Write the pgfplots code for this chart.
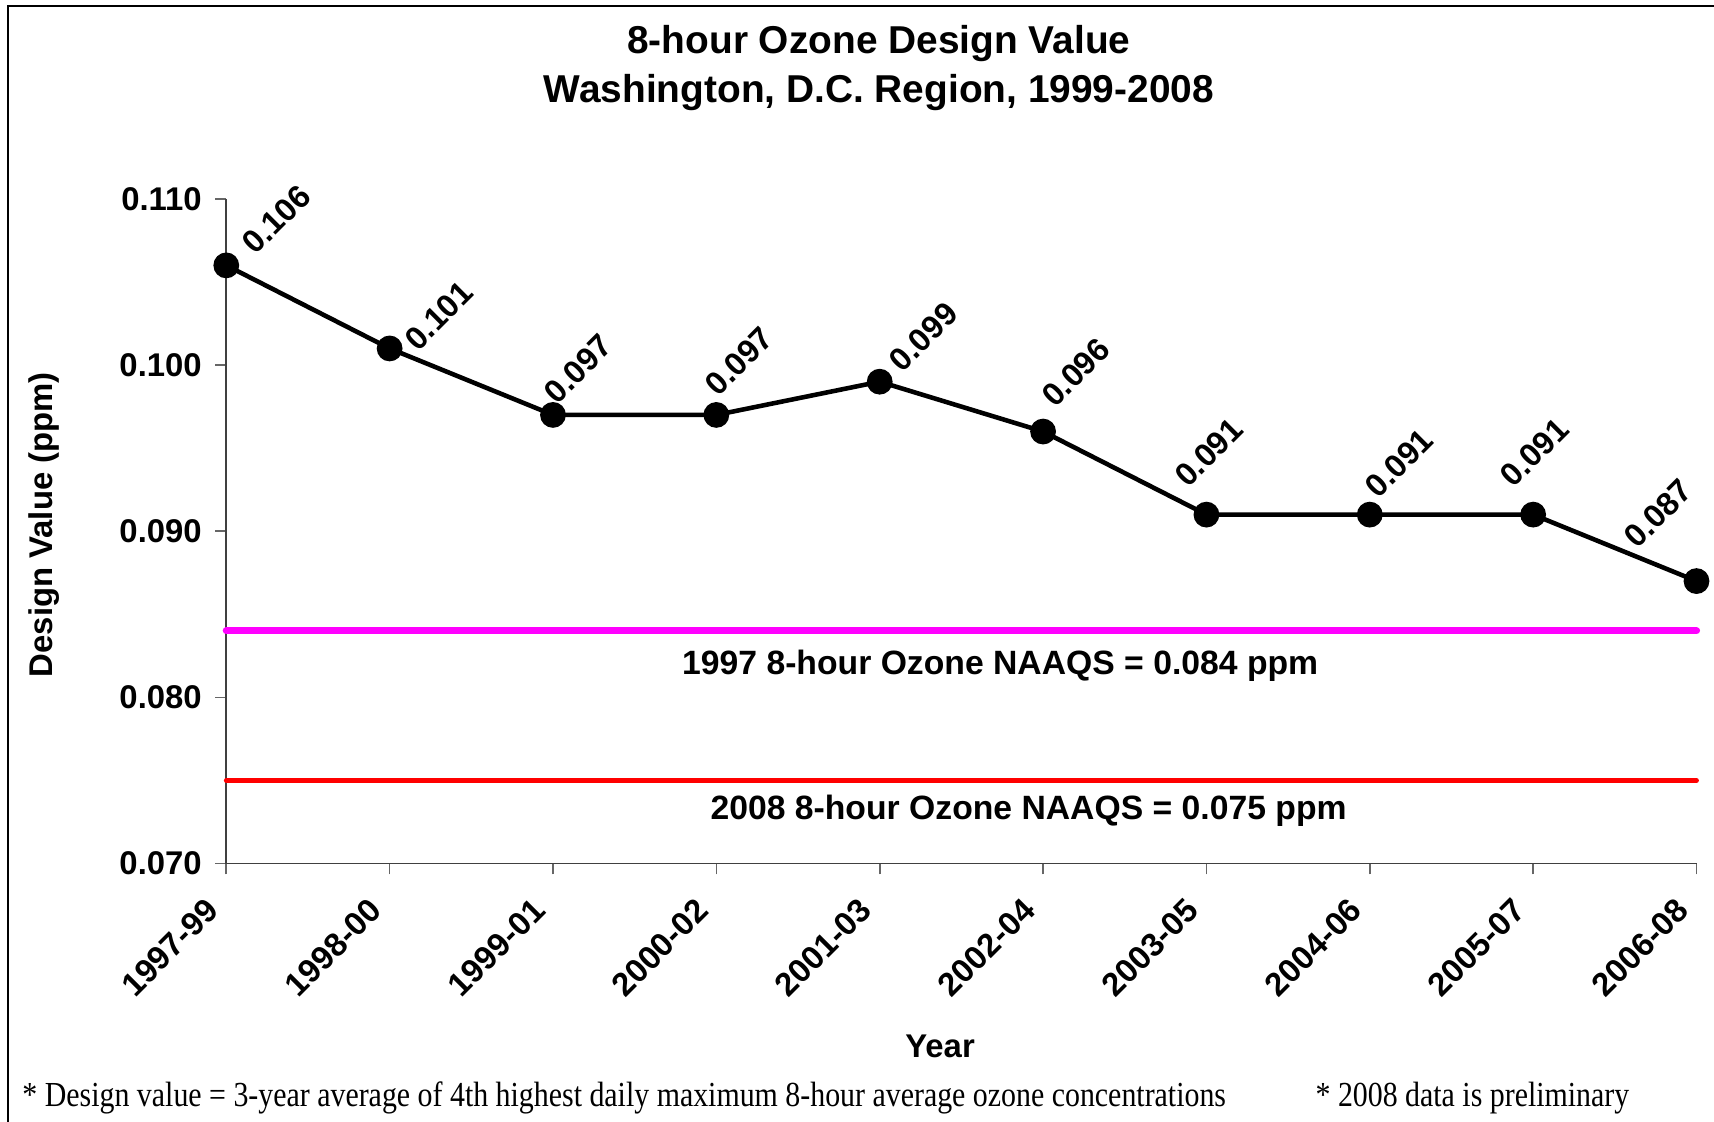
\documentclass[border=0pt]{standalone}
\usepackage{pgfplots}
\pgfplotsset{compat=1.18}
\usepackage{pgfplotstable}
\usepackage{graphicx}
\usepackage{fontspec}
\setmainfont{Liberation Sans}
\newfontfamily\timesfont{Liberation Serif}
\definecolor{puremagenta}{RGB}{255,0,255}
\definecolor{purered}{RGB}{255,0,0}

\pgfplotstableread{
x y dx dy lab
0 0.106 17.6 16.1 0.106
1 0.101 17.2 11.5 0.101
2 0.097 8.8 16.1 0.097
3 0.097 8.0 18.8 0.097
4 0.099 15.3 15.7 0.099
5 0.096 11.5 20.7 0.096
6 0.091 0.8 21.8 0.091
7 0.091 10.3 18.0 0.091
8 0.091 0.4 21.8 0.091
9 0.087 -13.4 23.7 0.087
}\dvtable

\pgfplotstableread{
x y
0 0.084
9 0.084
}\naaqsA

\pgfplotstableread{
x y
0 0.075
9 0.075
}\naaqsB

\begin{document}
\begin{tikzpicture}
\begin{scope}[x=0.38265pt,y=0.38265pt]
\path[use as bounding box] (0,0) rectangle (1568,1026);
\clip (0,0) rectangle (1568,1026);
\fill[white] (0,0) rectangle (1568,1026);
\draw[line width=0.6pt] (7.5,1020.5) rectangle (1600,-40);

\node[font=\fontsize{13.6}{16}\selectfont\bfseries, anchor=base] at (804,977) {8-hour Ozone Design Value};
\node[font=\fontsize{13.6}{16}\selectfont\bfseries, anchor=base] at (804,932) {Washington, D.C. Region, 1999-2008};

\node[font=\fontsize{11.8}{14}\selectfont\bfseries, anchor=base] at (915,409) {1997 8-hour Ozone NAAQS = 0.084 ppm};
\node[font=\fontsize{11.8}{14}\selectfont\bfseries, anchor=base] at (941,276) {2008 8-hour Ozone NAAQS = 0.075 ppm};

\node[font=\fontsize{11.5}{13}\selectfont\bfseries, rotate=90] at (40,546) {Design Value (ppm)};
\node[font=\fontsize{11.5}{13}\selectfont\bfseries, anchor=base] at (860,59) {Year};

\node[anchor=base west, inner sep=0pt] at (20,14) {\resizebox{421.3pt}{\height}{\timesfont\fontsize{12.3}{14}\selectfont * Design value = 3-year average of 4th highest daily maximum 8-hour average ozone concentrations}};
\node[anchor=base west, inner sep=0pt] at (1203,14) {\resizebox{109.8pt}{\height}{\timesfont\fontsize{12.3}{14}\selectfont * 2008 data is preliminary}};

\begin{axis}[
  at={(79.21pt,90.31pt)}, anchor=south west,
  scale only axis, width=514.66pt, height=232.65pt,
  xmin=0, xmax=9, ymin=0.070, ymax=0.110,
  axis lines=left,
  axis line style={-, black!75, line width=0.6pt},
  xtick={0,1,2,3,4,5,6,7,8,9},
  xticklabels={1997-99,1998-00,1999-01,2000-02,2001-03,2002-04,2003-05,2004-06,2005-07,2006-08},
  ytick={0.07,0.08,0.09,0.10,0.11},
  scaled y ticks=false,
  /pgf/number format/assume math mode=true,
  yticklabel={\pgfmathprintnumber[fixed,fixed zerofill,precision=3]{\tick}},
  yticklabel style={font=\fontsize{11.5}{13}\selectfont\bfseries, inner sep=0pt, xshift=-4.6pt},
  xticklabel style={font=\fontsize{11.5}{13}\selectfont\bfseries, xshift=-7.75pt, yshift=-7.56pt, rotate=45, anchor=north east, inner sep=0pt},
  tick align=outside, major tick length=3.8pt,
  tick style={black!60, line width=0.6pt},
  clip=false,
]
\addplot[puremagenta, line width=2.5pt, line cap=round] table[x=x, y=y] {\naaqsA};
\addplot[purered, line width=1.7pt, line cap=round] table[x=x, y=y] {\naaqsB};
\addplot[black, line width=1.6pt, mark=*, mark size=3.7pt, mark options={fill=black, solid},
  point meta=explicit symbolic,
  visualization depends on={\thisrow{dx} \as \ldx},
  visualization depends on={\thisrow{dy} \as \ldy},
  nodes near coords,
  nodes near coords style={xshift=\ldx pt, yshift=\ldy pt, rotate=45, anchor=center, inner sep=0pt,
    font=\fontsize{11.3}{13}\selectfont\bfseries, text=black},
] table[x=x, y=y, meta=lab] {\dvtable};
\end{axis}
\end{scope}
\end{tikzpicture}
\end{document}
